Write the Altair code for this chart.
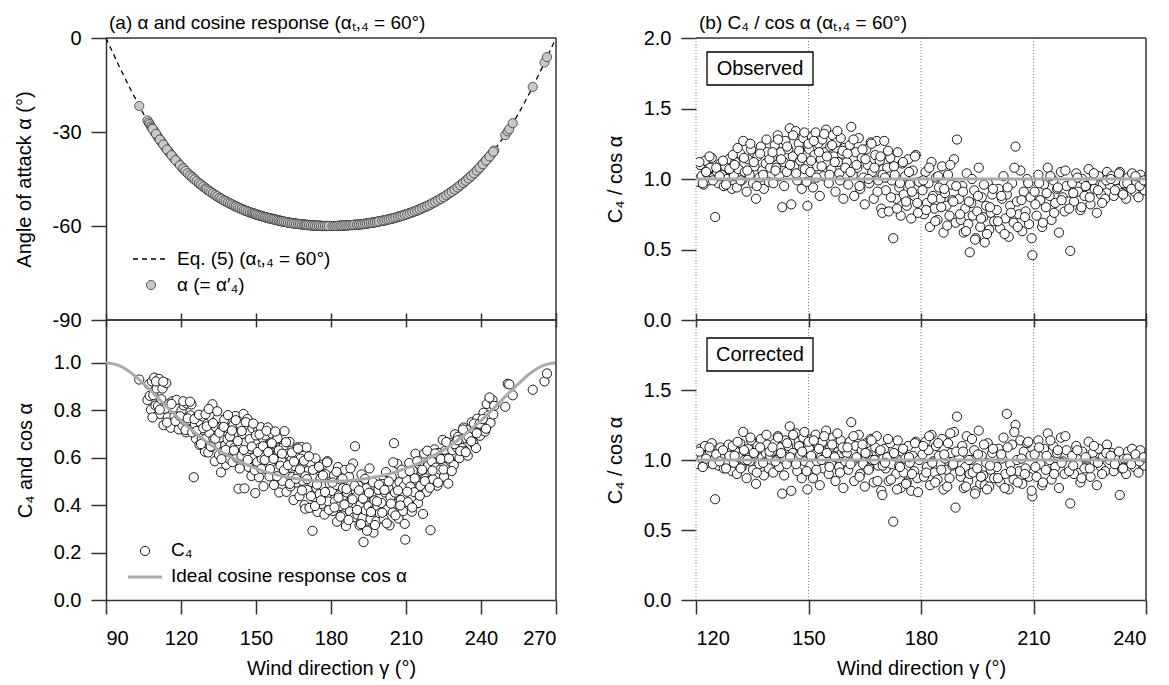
import math
import altair as alt
import pandas as pd

FONT = "Liberation Sans"
AX = "#333333"

# ---------------- data ----------------
gamma = [
    103.3, 106.6, 107.1, 107.5, 108.0, 108.4, 108.9, 109.3, 109.8,
    110.3, 110.8, 111.2, 111.7, 112.1, 112.6, 113.0, 113.6, 114.1, 114.7, 115.3, 115.9, 116.6, 117.4, 118.2, 119.1,
    120.2, 120.6, 121.1, 121.5, 122.0, 122.4, 122.9, 123.3, 123.8, 124.2, 124.7, 125.1, 125.6, 126.0, 126.5, 126.9, 127.4, 127.8, 128.3, 128.7, 129.2, 129.6,
    130.1, 130.5, 130.9, 131.3, 131.8, 132.2, 132.6, 133.0, 133.5, 133.9, 134.3, 134.7, 135.2, 135.6, 136.0, 136.4, 136.9, 137.3, 137.7, 138.1, 138.6, 139.0, 139.4, 139.8,
    140.2, 140.6, 141.0, 141.4, 141.8, 142.2, 142.6, 143.0, 143.4, 143.8, 144.2, 144.6, 145.0, 145.4, 145.8, 146.2, 146.6, 147.0, 147.4, 147.8, 148.2, 148.6, 149.0, 149.4, 149.7, 149.9,
    150.2, 150.5, 150.9, 151.2, 151.6, 151.9, 152.3, 152.6, 153.0, 153.3, 153.7, 154.0, 154.4, 154.7, 155.1, 155.4, 155.8, 156.1, 156.5, 156.8, 157.2, 157.5, 157.9, 158.2, 158.6, 158.9, 159.3, 159.6,
    160.2, 160.6, 161.0, 161.4, 161.8, 162.2, 162.6, 163.0, 163.4, 163.8, 164.2, 164.6, 165.0, 165.4, 165.8, 166.2, 166.6, 167.0, 167.4, 167.8, 168.2, 168.6, 169.0, 169.4, 169.7, 169.9,
    170.2, 170.6, 171.0, 171.4, 171.8, 172.2, 172.6, 173.0, 173.4, 173.8, 174.2, 174.6, 175.0, 175.4, 175.8, 176.2, 176.6, 177.0, 177.4, 177.8, 178.2, 178.6, 179.0, 179.5,
    180.4, 180.8, 181.2, 181.6, 182.0, 182.4, 182.8, 183.2, 183.6, 184.0, 184.4, 184.8, 185.2, 185.6, 186.0, 186.4, 186.8, 187.2, 187.6, 188.0, 188.4, 188.8, 189.2, 189.6,
    190.2, 190.6, 191.0, 191.4, 191.8, 192.2, 192.6, 193.0, 193.4, 193.8, 194.2, 194.6, 195.0, 195.4, 195.8, 196.2, 196.6, 197.0, 197.4, 197.8, 198.2, 198.6, 199.0, 199.5,
    200.2, 200.7, 201.1, 201.6, 202.0, 202.5, 202.9, 203.4, 203.8, 204.3, 204.7, 205.2, 205.6, 206.1, 206.5, 207.0, 207.4, 207.9, 208.3, 208.8, 209.2, 209.7,
    210.3, 210.8, 211.3, 211.8, 212.3, 212.8, 213.3, 213.8, 214.3, 214.8, 215.3, 215.8, 216.3, 216.8, 217.3, 217.8, 218.3, 218.8, 219.3, 219.8,
    220.3, 220.8, 221.4, 221.9, 222.5, 223.0, 223.6, 224.1, 224.7, 225.2, 225.8, 226.3, 226.9, 227.4, 228.0, 228.5, 229.1, 229.6,
    230.3, 230.8, 231.4, 231.9, 232.5, 233.0, 233.6, 234.1, 234.7, 235.2, 235.8, 236.3, 236.9, 237.4, 238.0, 238.5, 239.1, 239.6,
    240.4, 241.0, 241.6, 242.3, 243.0, 243.8, 244.6, 245.3,
    249.7, 250.7, 251.3, 252.7, 260.7, 265.4, 266.4,
    # second pass over the dense part of the cloud
    108.6, 110.0, 111.5, 112.9, 114.4, 116.2, 117.8, 119.6,
    120.9, 121.8, 122.7, 123.6, 124.5, 125.4, 126.3, 127.2, 128.0, 128.9, 129.8,
    130.3, 131.1, 131.9, 132.8, 133.7, 134.5, 135.4, 136.2, 137.1, 137.9, 138.8, 139.6,
    140.4, 141.2, 141.9, 142.7, 143.5, 144.3, 145.1, 145.9, 146.7, 147.5, 148.3, 148.9, 149.5, 150.0,
    150.7, 151.4, 152.1, 152.8, 153.5, 154.2, 154.9, 155.6, 156.3, 157.0, 157.7, 158.4, 159.1, 159.8,
    160.4, 161.2, 162.0, 162.8, 163.6, 164.4, 165.2, 166.0, 166.8, 167.6, 168.4, 169.2, 169.8,
    170.4, 171.2, 172.0, 172.8, 173.6, 174.4, 175.2, 176.0, 176.8, 177.6, 178.4, 179.2,
    180.6, 181.4, 182.2, 183.0, 183.8, 184.6, 185.4, 186.2, 187.0, 187.8, 188.6, 189.4,
    190.4, 191.2, 192.0, 192.8, 193.6, 194.4, 195.2, 196.0, 196.8, 197.6, 198.4, 199.2,
    200.5, 201.4, 202.3, 203.1, 204.0, 204.9, 205.8, 206.8, 207.7, 208.6, 209.5,
    210.5, 211.5, 212.5, 213.5, 214.5, 215.5, 216.5, 217.5, 218.5, 219.5,
    220.6, 221.7, 222.8, 223.9, 225.0, 226.1, 227.2, 228.3, 229.4,
    230.6, 231.7, 232.8, 233.9, 235.0, 236.1, 237.2, 238.3, 239.4,
    240.7, 242.0, 243.4, 244.9,
]

# |angle of attack| (deg) of each sample in panel (a)
alpha_abs = [
    21.7, 26.3, 27.0, 27.5, 28.2, 28.7, 29.3, 29.8, 30.4,
    31.0, 31.6, 32.1, 32.6, 33.1, 33.6, 34.1, 34.7, 35.3, 35.9, 36.5, 37.1, 37.8, 38.6, 39.3, 40.1,
    41.1, 41.4, 41.8, 42.1, 42.6, 42.9, 43.3, 43.6, 43.9, 44.2, 44.6, 44.9, 45.2, 45.5, 45.9, 46.1, 46.5, 46.7, 47.0, 47.3, 47.6, 47.8,
    48.1, 48.4, 48.6, 48.8, 49.1, 49.3, 49.5, 49.8, 50.0, 50.3, 50.5, 50.7, 50.9, 51.1, 51.3, 51.5, 51.7, 51.9, 52.0, 52.2, 52.4, 52.6, 52.7, 52.9,
    53.1, 53.2, 53.4, 53.5, 53.7, 53.9, 54.0, 54.1, 54.3, 54.4, 54.6, 54.7, 54.8, 55.0, 55.1, 55.2, 55.3, 55.5, 55.6, 55.7, 55.8, 55.9, 56.0, 56.1, 56.2, 56.3,
    56.4, 56.4, 56.5, 56.6, 56.7, 56.8, 56.9, 56.9, 57.0, 57.1, 57.2, 57.2, 57.3, 57.4, 57.5, 57.5, 57.6, 57.6, 57.7, 57.8, 57.8, 57.9, 58.0, 58.0, 58.1, 58.2, 58.2, 58.3,
    58.5, 58.5, 58.6, 58.7, 58.7, 58.8, 58.8, 58.9, 58.9, 59.0, 59.1, 59.1, 59.1, 59.2, 59.2, 59.3, 59.3, 59.4, 59.4, 59.4, 59.5, 59.5, 59.5, 59.6, 59.6, 59.6,
    59.6, 59.7, 59.7, 59.7, 59.8, 59.8, 59.8, 59.8, 59.9, 59.9, 59.9, 59.9, 59.9, 59.9, 59.9, 60.0, 60.0, 60.0, 60.0, 60.0, 60.0, 60.0, 60.0, 60.0,
    60.0, 60.0, 60.0, 60.0, 60.0, 60.0, 60.0, 59.9, 59.9, 59.9, 59.9, 59.9, 59.9, 59.8, 59.8, 59.8, 59.8, 59.7, 59.7, 59.7, 59.7, 59.7, 59.6, 59.6,
    59.6, 59.6, 59.5, 59.5, 59.5, 59.4, 59.4, 59.4, 59.3, 59.3, 59.2, 59.2, 59.1, 59.1, 59.0, 59.0, 58.9, 58.9, 58.8, 58.8, 58.7, 58.6, 58.6, 58.5,
    58.4, 58.3, 58.3, 58.2, 58.1, 58.0, 57.9, 57.8, 57.7, 57.7, 57.6, 57.5, 57.4, 57.3, 57.2, 57.0, 56.9, 56.8, 56.7, 56.6, 56.5, 56.4,
    56.2, 56.1, 55.9, 55.8, 55.7, 55.5, 55.4, 55.2, 55.1, 54.9, 54.7, 54.6, 54.4, 54.2, 54.0, 53.9, 53.7, 53.5, 53.3, 53.1,
    52.9, 52.7, 52.4, 52.2, 51.9, 51.7, 51.4, 51.2, 50.9, 50.7, 50.4, 50.1, 49.8, 49.5, 49.2, 48.9, 48.6, 48.3,
    47.9, 47.6, 47.2, 46.9, 46.5, 46.2, 45.8, 45.4, 45.0, 44.7, 44.2, 43.9, 43.4, 43.0, 42.6, 42.1, 41.7, 41.2,
    40.5, 40.0, 39.5, 38.8, 38.2, 37.4, 36.6, 35.9,
    31.0, 29.8, 29.1, 27.2, 15.6, 7.8, 6.1,
    # second pass
    29.0, 30.6, 32.4, 34.0, 35.6, 37.4, 39.0, 40.6,
    41.6, 42.4, 43.2, 43.9, 44.5, 45.1, 45.7, 46.3, 46.8, 47.4, 48.0,
    48.3, 48.7, 49.2, 49.6, 50.1, 50.5, 51.0, 51.3, 51.8, 52.1, 52.5, 52.8,
    53.1, 53.5, 53.7, 54.0, 54.3, 54.6, 54.9, 55.1, 55.4, 55.6, 55.8, 56.0, 56.1, 56.3,
    56.5, 56.7, 56.8, 57.0, 57.2, 57.3, 57.5, 57.6, 57.8, 57.9, 58.0, 58.2, 58.3, 58.4,
    58.5, 58.6, 58.7, 58.9, 59.0, 59.1, 59.2, 59.3, 59.3, 59.4, 59.5, 59.6, 59.6,
    59.7, 59.7, 59.8, 59.8, 59.9, 59.9, 59.9, 60.0, 60.0, 60.0, 60.0, 60.0,
    60.0, 60.0, 60.0, 59.9, 59.9, 59.9, 59.8, 59.8, 59.8, 59.7, 59.7, 59.6,
    59.6, 59.5, 59.5, 59.4, 59.3, 59.2, 59.1, 59.0, 58.9, 58.8, 58.7, 58.5,
    58.3, 58.2, 58.0, 57.9, 57.7, 57.5, 57.3, 57.1, 56.9, 56.7, 56.4,
    56.2, 55.9, 55.6, 55.3, 55.0, 54.7, 54.3, 53.9, 53.6, 53.2,
    52.7, 52.3, 51.8, 51.3, 50.8, 50.2, 49.6, 49.1, 48.4,
    47.7, 47.0, 46.3, 45.6, 44.8, 44.0, 43.2, 42.3, 41.4,
    40.3, 39.1, 37.8, 36.3,
]

# observed C4 / cos(alpha)
ratio_obs = [
    1.00, 0.94, 1.02, 0.97, 0.91, 1.05, 0.99, 1.08, 0.95,
    1.04, 0.96, 1.10, 0.93, 1.01, 1.07, 0.89, 0.98, 1.12, 0.95, 1.03, 0.91, 1.06, 0.99, 1.09, 0.94,
    1.06, 0.98, 1.10, 1.02, 0.96, 1.13, 1.04, 0.99, 1.08, 1.15, 1.01, 0.73, 1.05, 0.97, 1.11, 1.03, 0.95, 1.09, 1.00, 1.14, 1.06, 0.93,
    1.02, 1.12, 0.94, 1.07, 1.18, 0.99, 1.27, 1.05, 0.91, 1.14, 1.03, 1.21, 0.97, 1.09, 0.86, 1.16, 1.01, 1.23, 1.06, 0.93, 1.11, 1.19, 0.98, 1.08,
    1.15, 0.97, 1.24, 1.08, 1.31, 1.02, 1.19, 0.80, 1.12, 1.27, 1.05, 1.21, 1.36, 0.82, 1.16, 1.09, 1.34, 0.99, 1.25, 1.13, 0.93, 1.29, 1.07, 1.18, 0.81, 1.22,
    1.21, 1.05, 1.30, 0.94, 1.17, 1.33, 1.09, 1.25, 0.88, 1.14, 1.28, 1.02, 1.19, 1.35, 1.11, 0.97, 1.23, 1.07, 1.31, 1.16, 0.91, 1.26, 1.12, 1.04, 1.29, 1.18, 0.86, 1.22,
    1.12, 0.96, 1.24, 1.37, 1.03, 0.88, 1.19, 1.08, 1.29, 0.93, 1.15, 1.01, 0.82, 1.21, 1.10, 0.97, 1.26, 1.05, 0.86, 1.17, 1.27, 0.99, 1.13, 0.79, 0.76, 1.07,
    1.27, 0.92, 1.08, 0.77, 1.15, 0.99, 0.58, 1.03, 0.86, 1.19, 0.94, 0.74, 1.11, 0.89, 1.02, 0.81, 1.14, 0.96, 0.72, 1.06, 0.88, 1.17, 0.83, 0.98,
    0.92, 0.75, 1.05, 0.83, 0.97, 0.66, 1.12, 0.88, 0.79, 1.01, 0.71, 0.94, 0.86, 1.09, 0.62, 0.90, 0.81, 1.03, 0.74, 0.96, 0.85, 1.14, 0.69, 1.28,
    0.86, 0.71, 0.95, 0.62, 0.79, 1.04, 0.68, 0.48, 0.83, 0.74, 0.92, 0.58, 0.77, 1.08, 0.66, 0.87, 0.73, 0.55, 0.81, 0.97, 0.64, 0.76, 0.89, 0.70,
    0.78, 0.93, 0.65, 0.86, 1.02, 0.72, 0.89, 0.59, 0.81, 0.97, 0.69, 1.23, 0.84, 0.75, 1.06, 0.63, 0.91, 0.77, 1.00, 0.68, 0.87, 0.46,
    0.91, 0.74, 1.03, 0.85, 0.66, 0.96, 0.80, 1.08, 0.88, 0.71, 0.99, 0.83, 0.93, 0.62, 1.05, 0.87, 0.77, 0.95, 0.84, 0.49,
    0.97, 0.84, 1.04, 0.91, 0.78, 1.00, 0.88, 0.95, 1.07, 0.82, 0.99, 0.93, 0.76, 1.02, 0.89, 0.96, 0.86, 1.05,
    0.96, 1.02, 0.88, 0.99, 0.93, 1.05, 0.90, 0.97, 0.86, 1.01, 0.94, 1.04, 0.91, 0.98, 0.87, 1.03, 0.95, 0.92,
    0.97, 1.03, 0.92, 1.06, 0.99, 0.94, 1.05, 1.01,
    0.95, 1.05, 1.04, 0.97, 0.92, 0.93, 0.96,
    # second pass
    0.88, 1.07, 0.95, 1.11, 0.92, 1.04, 0.97, 1.02,
    1.12, 0.97, 1.05, 1.16, 0.99, 1.08, 1.02, 1.13, 0.96, 1.07, 1.17,
    1.10, 1.22, 0.99, 1.15, 1.06, 1.25, 1.12, 0.95, 1.18, 1.03, 1.28, 1.14,
    1.19, 1.06, 1.28, 1.14, 0.95, 1.23, 1.10, 1.31, 1.04, 1.20, 1.15, 1.33, 0.98, 1.25,
    1.13, 1.27, 1.01, 1.19, 1.09, 1.32, 1.16, 1.03, 1.24, 1.12, 1.34, 0.99, 1.20, 1.08,
    1.18, 1.05, 1.28, 1.10, 0.95, 1.21, 1.14, 1.00, 1.25, 1.08, 0.91, 1.16, 1.03,
    1.01, 1.20, 0.87, 1.09, 0.79, 0.97, 1.12, 0.84, 1.05, 0.91, 1.16, 0.76,
    0.99, 0.78, 1.08, 0.86, 0.70, 1.02, 0.80, 0.93, 0.67, 1.10, 0.84, 0.95,
    0.75, 0.91, 0.63, 0.84, 1.00, 0.57, 0.88, 0.72, 0.96, 0.61, 0.80, 0.93,
    0.70, 0.88, 0.61, 0.94, 0.76, 1.08, 0.66, 0.85, 0.73, 0.97, 0.58,
    0.82, 0.97, 0.69, 0.90, 1.02, 0.76, 0.94, 0.85, 1.06, 0.79,
    0.90, 1.01, 0.80, 0.95, 0.87, 1.04, 0.92, 0.83, 0.99,
    1.00, 0.92, 1.04, 0.89, 0.97, 0.93, 1.02, 0.95, 0.99,
    1.00, 0.93, 1.08, 0.97,
]

# corrected C4 / cos(alpha)
ratio_cor = [
    1.01, 0.95, 1.03, 0.98, 0.92, 1.06, 1.00, 1.09, 0.96,
    1.03, 0.97, 1.08, 0.94, 1.00, 1.05, 0.91, 0.99, 1.10, 0.96, 1.02, 0.92, 1.05, 1.00, 1.07, 0.95,
    1.04, 0.97, 1.08, 1.01, 0.96, 1.10, 1.03, 0.98, 1.06, 1.12, 1.00, 0.72, 1.04, 0.96, 1.09, 1.02, 0.94, 1.07, 0.99, 1.11, 1.05, 0.92,
    0.98, 1.06, 0.90, 1.02, 1.12, 0.95, 1.20, 1.00, 0.87, 1.08, 0.99, 1.14, 0.93, 1.04, 0.83, 1.10, 0.97, 1.15, 1.02, 0.89, 1.05, 1.11, 0.94, 1.03,
    1.06, 0.91, 1.12, 1.00, 1.17, 0.95, 1.09, 0.76, 1.03, 1.14, 0.97, 1.10, 1.24, 0.78, 1.05, 1.01, 1.19, 0.92, 1.13, 1.04, 0.87, 1.16, 0.99, 1.08, 0.79, 1.11,
    1.08, 0.96, 1.15, 0.87, 1.04, 1.18, 0.99, 1.11, 0.82, 1.02, 1.13, 0.94, 1.06, 1.21, 1.00, 0.90, 1.09, 0.97, 1.16, 1.03, 0.85, 1.12, 1.01, 0.95, 1.14, 1.05, 0.80, 1.07,
    1.05, 0.93, 1.13, 1.27, 0.99, 0.85, 1.10, 1.02, 1.18, 0.90, 1.07, 0.97, 0.81, 1.12, 1.04, 0.94, 1.15, 1.00, 0.84, 1.09, 1.17, 0.96, 1.06, 0.78, 0.75, 1.01,
    1.08, 0.94, 1.02, 0.85, 1.12, 0.97, 0.56, 1.04, 0.90, 1.14, 0.96, 0.80, 1.06, 0.91, 1.01, 0.84, 1.10, 0.98, 0.78, 1.03, 0.92, 1.13, 0.87, 1.00,
    1.04, 0.88, 1.13, 0.95, 1.07, 0.82, 1.18, 0.99, 0.91, 1.10, 0.86, 1.03, 0.97, 1.15, 0.79, 1.01, 0.93, 1.12, 0.87, 1.05, 0.96, 1.20, 0.66, 1.31,
    1.02, 0.88, 1.10, 0.80, 0.95, 1.17, 0.85, 0.90, 1.00, 0.91, 1.07, 0.78, 0.94, 1.21, 0.83, 1.03, 0.89, 0.82, 0.98, 1.12, 0.81, 0.93, 1.05, 0.87,
    0.95, 1.08, 0.84, 1.01, 1.16, 0.90, 1.33, 0.79, 0.97, 1.11, 0.86, 1.25, 1.00, 0.92, 1.14, 0.83, 1.06, 0.94, 1.12, 0.88, 1.03, 0.74,
    1.04, 0.88, 1.14, 0.97, 0.82, 1.08, 0.93, 1.19, 1.00, 0.86, 1.10, 0.95, 1.05, 0.80, 1.16, 0.99, 0.90, 1.07, 0.96, 0.69,
    1.03, 0.90, 1.10, 0.97, 0.84, 1.06, 0.94, 1.01, 1.13, 0.88, 1.05, 0.99, 0.82, 1.08, 0.95, 1.02, 0.92, 1.11,
    1.00, 1.05, 0.92, 1.03, 0.97, 0.75, 0.94, 1.01, 0.90, 1.06, 0.98, 1.08, 0.95, 1.02, 0.91, 1.07, 0.99, 0.96,
    0.98, 1.02, 0.93, 1.05, 1.00, 0.95, 1.04, 1.00,
    0.95, 1.05, 1.04, 0.97, 0.92, 0.93, 0.96,
    # second pass
    0.90, 1.05, 0.96, 1.09, 0.93, 1.03, 0.98, 1.01,
    1.06, 0.95, 1.01, 1.09, 0.97, 1.04, 0.99, 1.07, 0.94, 1.03, 1.10,
    1.03, 1.13, 0.94, 1.07, 1.00, 1.16, 1.05, 0.91, 1.09, 0.98, 1.18, 1.06,
    1.09, 0.99, 1.16, 1.05, 0.89, 1.12, 1.02, 1.18, 0.97, 1.10, 1.06, 1.20, 0.92, 1.13,
    1.03, 1.14, 0.93, 1.08, 1.00, 1.17, 1.05, 0.95, 1.11, 1.02, 1.19, 0.91, 1.09, 0.99,
    1.09, 0.97, 1.17, 1.02, 0.88, 1.11, 1.05, 0.93, 1.14, 1.00, 0.85, 1.07, 0.96,
    0.98, 1.15, 0.86, 1.05, 0.79, 0.95, 1.08, 0.83, 1.02, 0.90, 1.12, 0.77,
    1.10, 0.91, 1.17, 0.98, 0.84, 1.12, 0.93, 1.04, 0.81, 1.19, 0.97, 1.06,
    0.92, 1.06, 0.81, 1.00, 1.15, 0.76, 1.04, 0.88, 1.11, 0.79, 0.96, 1.08,
    0.87, 1.04, 0.80, 1.09, 0.92, 1.20, 0.84, 1.01, 0.90, 1.13, 0.78,
    0.95, 1.09, 0.84, 1.03, 1.14, 0.90, 1.07, 0.98, 1.17, 0.92,
    0.96, 1.07, 0.87, 1.02, 0.94, 1.10, 0.98, 0.90, 1.05,
    1.03, 0.97, 1.06, 0.94, 1.01, 0.97, 1.04, 0.99, 1.02,
    1.00, 0.95, 1.05, 0.98,
]

# Eq. (5) curve and ideal cosine response, read at 5-degree steps
curve_gamma = [90, 95, 100, 105, 110, 115, 120, 125, 130, 135, 140, 145, 150, 155, 160, 165, 170, 175, 180,
               185, 190, 195, 200, 205, 210, 215, 220, 225, 230, 235, 240, 245, 250, 255, 260, 265, 270]
curve_alpha_abs = [0, 8.6, 16.7, 24.2, 30.6, 36.2, 40.9, 44.8, 48.1, 50.8, 53.0, 54.8, 56.3, 57.5, 58.4, 59.1, 59.6, 59.9, 60.0,
                   59.9, 59.6, 59.1, 58.4, 57.5, 56.3, 54.8, 53.0, 50.8, 48.1, 44.8, 40.9, 36.2, 30.6, 24.2, 16.7, 8.6, 0]
curve_cos = [1.0, 0.989, 0.958, 0.912, 0.860, 0.807, 0.756, 0.710, 0.668, 0.632, 0.602, 0.576, 0.555, 0.537, 0.523, 0.513, 0.506, 0.501, 0.500,
             0.501, 0.506, 0.513, 0.523, 0.537, 0.555, 0.576, 0.602, 0.632, 0.668, 0.710, 0.756, 0.807, 0.860, 0.912, 0.958, 0.989, 1.0]

ideal_gamma = [120, 240]
ideal_ratio = [1.0, 1.0]

x_ticks_a = [90, 120, 150, 180, 210, 240, 270]
x_ticks_b = [120, 150, 180, 210, 240]
y_ticks_alpha = [0, -30, -60, -90]
y_ticks_c4 = [0.0, 0.2, 0.4, 0.6, 0.8, 1.0]
y_ticks_ratio_top = [0.0, 0.5, 1.0, 1.5, 2.0]
y_ticks_ratio_bot = [0.0, 0.5, 1.0, 1.5]

# ---------------- tables ----------------
pts = pd.DataFrame({
    "gamma": gamma,
    "alpha": [-a for a in alpha_abs],
    "obs": ratio_obs,
    "cor": ratio_cor,
})
pts["c4"] = [r * math.cos(math.radians(a)) for r, a in zip(ratio_obs, alpha_abs)]
pts_b = pts[(pts["gamma"] >= 120) & (pts["gamma"] <= 240)]
curve = pd.DataFrame({"gamma": curve_gamma, "alpha": [-a for a in curve_alpha_abs], "cosv": curve_cos})
ideal = pd.DataFrame({"gamma": ideal_gamma, "ratio": ideal_ratio})
one = pd.DataFrame({"k": [0]})

W = 450
H_TOP, H_BOT = 282, 280

xa = alt.Scale(domain=[90, 270], nice=False, zero=False)
xb = alt.Scale(domain=[120, 240], nice=False, zero=False)
ya_top = alt.Scale(domain=[-90, 0], nice=False, zero=False)
ya_bot = alt.Scale(domain=[0, 1.18], nice=False, zero=False)
yb = alt.Scale(domain=[0, 2.0], nice=False, zero=False)

TICK = 14


def mid_x_axis(values):
    return alt.Axis(values=values, labels=False, title=None, domain=False,
                    tickSize=TICK, offset=-7)


def bottom_x_axis(values):
    return alt.Axis(values=values, title="Wind direction γ (°)", domain=True,
                    tickSize=TICK, labelPadding=14, titlePadding=10, format="d")


def y_axis(values, title, fmt, domain=True, label_expr=None):
    kw = dict(values=values, title=title, format=fmt, domain=domain,
              tickSize=15, labelPadding=10, titlePadding=18)
    if label_expr:
        kw["labelExpr"] = label_expr
    return alt.Axis(**kw)


# frame rules share the field name of the panel they sit in, so the axes merge cleanly
def hrule(values, field, yscale):
    return alt.Chart(pd.DataFrame({field: values})).mark_rule(
        color=AX, strokeWidth=1.5).encode(y=alt.Y(f"{field}:Q", scale=yscale))


def vrule(values, xscale):
    return alt.Chart(pd.DataFrame({"gamma": values})).mark_rule(
        color=AX, strokeWidth=1.5).encode(x=alt.X("gamma:Q", scale=xscale))


def grid_rules(values, xscale):
    return alt.Chart(pd.DataFrame({"gamma": values})).mark_rule(
        color="#888888", strokeWidth=1, strokeDash=[1, 2]).encode(
        x=alt.X("gamma:Q", scale=xscale))


def label(text, x, y, size=19, align="left"):
    return alt.Chart(one).mark_text(text=text, font=FONT, fontSize=size, align=align,
                                    baseline="middle", color="black").encode(
        x=alt.value(x), y=alt.value(y))


def panel_title(text):
    return alt.TitleParams(text, anchor="start", frame="group", fontSize=19,
                           fontWeight="normal", font=FONT, offset=-5, dx=3)


open_circle = dict(shape="circle", filled=True, fill="white", stroke="black",
                   strokeWidth=0.9, size=85, opacity=1, clip=True)

# ---------------- (a) top: angle of attack ----------------
a_line = alt.Chart(curve).mark_line(color="black", strokeWidth=1.3, strokeDash=[5, 4]).encode(
    x=alt.X("gamma:Q", scale=xa, axis=mid_x_axis(x_ticks_a)),
    y=alt.Y("alpha:Q", scale=ya_top,
            axis=y_axis(y_ticks_alpha, "Angle of attack α (°)", "d",
                        label_expr="(datum.value < 0 ? '-' : '') + abs(datum.value)")),
)
a_pts = alt.Chart(pts).mark_point(shape="circle", filled=True, fill="#c8c8c8", stroke="#3a3a3a",
                                  strokeWidth=0.8, size=85, opacity=1).encode(
    x=alt.X("gamma:Q", scale=xa), y=alt.Y("alpha:Q", scale=ya_top))
a_leg = [
    alt.Chart(one).mark_rule(color="black", strokeWidth=1.3, strokeDash=[5, 4]).encode(
        x=alt.value(27), x2=alt.value(61), y=alt.value(221)),
    label("Eq. (5) (αₜ,₄ = 60°)", 71, 221),
    alt.Chart(one).mark_point(shape="circle", filled=True, fill="#c8c8c8", stroke="#3a3a3a",
                              strokeWidth=0.8, size=85, opacity=1).encode(
        x=alt.value(45), y=alt.value(247)),
    label("α (= α′₄)", 71, 247),
]
lt = alt.layer(
    a_line, a_pts, hrule([0, -90], "alpha", ya_top), vrule([270], xa), *a_leg
).properties(width=W, height=H_TOP,
             title=panel_title("(a) α and cosine response (αₜ,₄ = 60°)"))

# ---------------- (a) bottom: C4 and cos alpha ----------------
c_pts = alt.Chart(pts).mark_point(**open_circle).encode(
    x=alt.X("gamma:Q", scale=xa, axis=bottom_x_axis(x_ticks_a)),
    y=alt.Y("c4:Q", scale=ya_bot, axis=y_axis(y_ticks_c4, "C₄ and cos α", ".1f")),
)
c_line = alt.Chart(curve.rename(columns={"cosv": "c4"})).mark_line(
    color="#aaaaaa", strokeWidth=3, interpolate="monotone").encode(
    x=alt.X("gamma:Q", scale=xa), y=alt.Y("c4:Q", scale=ya_bot))
c_leg = [
    alt.Chart(one).mark_point(**open_circle).encode(x=alt.value(39), y=alt.value(231)),
    label("C₄", 65, 230),
    alt.Chart(one).mark_rule(color="#aaaaaa", strokeWidth=3).encode(
        x=alt.value(22), x2=alt.value(56), y=alt.value(257)),
    label("Ideal cosine response cos α", 65, 256),
]
lb = alt.layer(
    c_pts, c_line, hrule([1.18], "c4", ya_bot), vrule([270], xa), *c_leg
).properties(width=W, height=H_BOT)

# ---------------- (b) top: observed ----------------
o_grid = grid_rules(x_ticks_b[:-1], xb)
o_pts = alt.Chart(pts_b).mark_point(**open_circle).encode(
    x=alt.X("gamma:Q", scale=xb, axis=mid_x_axis(x_ticks_b)),
    y=alt.Y("obs:Q", scale=yb, axis=y_axis(y_ticks_ratio_top, "C₄ / cos α", ".1f", domain=False)),
)
o_ideal = alt.Chart(ideal.rename(columns={"ratio": "obs"})).mark_line(
    color="#aaaaaa", strokeWidth=3).encode(
    x=alt.X("gamma:Q", scale=xb), y=alt.Y("obs:Q", scale=yb))


def box(text, top):
    return [
        alt.Chart(one).mark_rect(fill="white", stroke="black", strokeWidth=1.3).encode(
            x=alt.value(11), x2=alt.value(117), y=alt.value(top), y2=alt.value(top + 33)),
        label(text, 64, top + 17, size=20, align="center"),
    ]


rt = alt.layer(
    o_grid, o_pts, o_ideal, hrule([0.0, 2.0], "obs", yb), vrule([240], xb), *box("Observed", 14)
).properties(width=W, height=H_TOP,
             title=panel_title("(b) C₄ / cos α (αₜ,₄ = 60°)"))

# ---------------- (b) bottom: corrected ----------------
r_grid = grid_rules(x_ticks_b[:-1], xb)
r_pts = alt.Chart(pts_b).mark_point(**open_circle).encode(
    x=alt.X("gamma:Q", scale=xb, axis=bottom_x_axis(x_ticks_b)),
    y=alt.Y("cor:Q", scale=yb, axis=y_axis(y_ticks_ratio_bot, "C₄ / cos α", ".1f", domain=False)),
)
r_ideal = alt.Chart(ideal.rename(columns={"ratio": "cor"})).mark_line(
    color="#aaaaaa", strokeWidth=3).encode(
    x=alt.X("gamma:Q", scale=xb), y=alt.Y("cor:Q", scale=yb))
rb = alt.layer(
    r_grid, r_pts, r_ideal, hrule([2.0], "cor", yb), vrule([240], xb), *box("Corrected", 18)
).properties(width=W, height=H_BOT)

left = alt.vconcat(lt, lb, spacing=0, bounds="flush")
right = alt.vconcat(rt, rb, spacing=0, bounds="flush")

chart = alt.hconcat(left, right, spacing=41).configure_view(
    stroke="transparent"
).configure_axis(
    labelFont=FONT, titleFont=FONT, labelFontSize=20, titleFontSize=20,
    titleFontWeight="normal", labelColor="black", titleColor="black",
    domainColor=AX, tickColor=AX, domainWidth=1.5, tickWidth=1.5, grid=False,
).configure_title(
    font=FONT, color="black"
).properties(background="white", padding={"left": 5, "top": 5, "right": 5, "bottom": 0})

chart.save("out.html", embed_options={"renderer": "svg", "actions": False})
